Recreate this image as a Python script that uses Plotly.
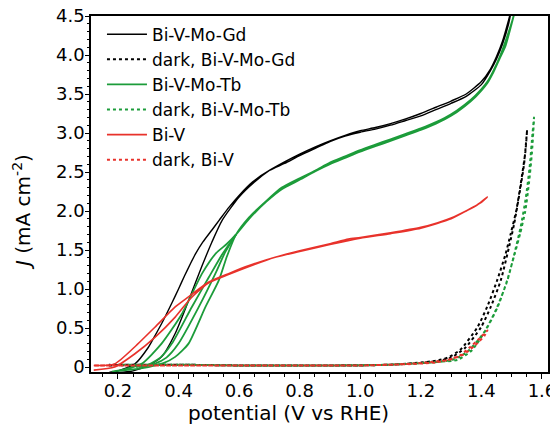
import plotly.graph_objects as go

# ---------------- data ----------------
# Bi-V-Mo-Gd, light: forward branch then reverse branch
gd_x = [0.17, 0.20, 0.25, 0.30, 0.344, 0.389, 0.433, 0.478, 0.51, 0.544, 0.60, 0.65, 0.70, 0.75, 0.80,
        0.85, 0.90, 0.95, 1.00, 1.05, 1.10, 1.15, 1.20, 1.25, 1.30, 1.35, 1.40, 1.43, 1.45, 1.47, 1.49, 1.50,
        1.49, 1.47, 1.45, 1.43, 1.40, 1.35, 1.30, 1.25, 1.20, 1.15, 1.10, 1.05, 1.00, 0.95, 0.90, 0.85,
        0.80, 0.75, 0.70, 0.644, 0.60, 0.567, 0.534, 0.511, 0.48, 0.456, 0.44, 0.42, 0.40, 0.378, 0.35,
        0.322, 0.30, 0.256, 0.20, 0.17]
gd_j = [-0.07, -0.07, -0.05, 0.02, 0.13, 0.43, 0.85, 1.30, 1.60, 1.88, 2.18, 2.37, 2.52, 2.63, 2.73,
        2.82, 2.90, 2.97, 3.03, 3.07, 3.12, 3.18, 3.25, 3.33, 3.41, 3.50, 3.66, 3.82, 3.98, 4.18, 4.45, 4.60,
        4.40, 4.14, 3.95, 3.80, 3.62, 3.47, 3.38, 3.30, 3.22, 3.16, 3.10, 3.05, 3.01, 2.96, 2.89, 2.80,
        2.71, 2.61, 2.52, 2.37, 2.20, 2.05, 1.88, 1.76, 1.60, 1.45, 1.33, 1.17, 1.00, 0.82, 0.60,
        0.40, 0.25, 0.04, -0.05, -0.07]

# Bi-V-Mo-Gd, dark
gd_dark_x = [0.17, 0.40, 0.60, 0.80, 1.00, 1.10, 1.18, 1.25, 1.289, 1.33, 1.387, 1.42, 1.452, 1.48, 1.497,
             1.515, 1.53, 1.545, 1.551,
             1.549, 1.541, 1.527, 1.509, 1.492, 1.464, 1.432, 1.399, 1.345, 1.30, 1.26, 1.19, 1.10, 0.90,
             0.60, 0.40, 0.17]
gd_dark_j = [0.02, 0.03, 0.02, 0.02, 0.02, 0.03, 0.05, 0.08, 0.12, 0.22, 0.51, 0.78, 1.11, 1.45, 1.71,
             2.00, 2.35, 2.75, 3.04,
             2.95, 2.60, 2.25, 1.85, 1.55, 1.11, 0.78, 0.51, 0.24, 0.12, 0.08, 0.05, 0.03, 0.02,
             0.02, 0.03, 0.03]

# Bi-V-Mo-Tb, light: rightmost forward, leftmost reverse, plus two middle branches
tb_x = [0.20, 0.25, 0.30, 0.35, 0.389, 0.433, 0.489, 0.533, 0.56, 0.59, 0.633, 0.69, 0.741, 0.80, 0.852,
        0.90, 0.95, 1.00, 1.05, 1.10, 1.15, 1.20, 1.25, 1.30, 1.344, 1.38, 1.42, 1.44, 1.462, 1.48, 1.502, 1.52,
        1.50, 1.48, 1.46, 1.44, 1.42, 1.38, 1.344, 1.30, 1.25, 1.20, 1.15, 1.10, 1.05, 1.00, 0.95, 0.90,
        0.852, 0.80, 0.741, 0.69, 0.633, 0.59, 0.56, 0.524, 0.478, 0.411, 0.344, 0.278, 0.22, 0.18,
        None, 0.26, 0.30, 0.34, 0.378, 0.444, 0.50, 0.545, 0.59,
        None, 0.27, 0.32, 0.36, 0.40, 0.467, 0.522, 0.555, 0.59]
tb_j = [-0.05, -0.03, 0.00, 0.05, 0.13, 0.30, 0.77, 1.11, 1.42, 1.70, 1.92, 2.13, 2.30, 2.42, 2.52,
        2.62, 2.70, 2.78, 2.85, 2.92, 2.99, 3.06, 3.14, 3.24, 3.36, 3.48, 3.66, 3.80, 3.99, 4.18, 4.44, 4.70,
        4.40, 4.12, 3.95, 3.78, 3.64, 3.46, 3.34, 3.22, 3.12, 3.04, 2.97, 2.90, 2.83, 2.76, 2.68, 2.60,
        2.51, 2.40, 2.28, 2.12, 1.90, 1.70, 1.58, 1.46, 1.20, 0.68, 0.30, 0.04, -0.03, -0.06,
        None, 0.00, 0.03, 0.12, 0.30, 0.77, 1.15, 1.45, 1.70,
        None, 0.00, 0.04, 0.12, 0.30, 0.77, 1.20, 1.48, 1.70]

# Bi-V-Mo-Tb, dark
tb_dark_x = [0.20, 0.40, 0.60, 0.80, 1.00, 1.10, 1.20, 1.27, 1.321, 1.37, 1.42, 1.455, 1.485, 1.51, 1.528,
             1.545, 1.557, 1.567, 1.574,
             1.569, 1.559, 1.546, 1.530, 1.512, 1.486, 1.450, 1.410, 1.355, 1.31, 1.27, 1.20, 1.10, 0.90,
             0.60, 0.40, 0.20]
tb_dark_j = [0.03, 0.03, 0.02, 0.02, 0.02, 0.03, 0.05, 0.07, 0.09, 0.22, 0.51, 0.78, 1.11, 1.45, 1.71,
             2.00, 2.35, 2.75, 3.20,
             3.00, 2.55, 2.15, 1.80, 1.50, 1.11, 0.75, 0.45, 0.20, 0.10, 0.07, 0.05, 0.03, 0.02,
             0.02, 0.03, 0.03]

# Bi-V, light
bv_x = [0.12, 0.189, 0.256, 0.322, 0.389, 0.433, 0.456, 0.50, 0.567, 0.633, 0.69, 0.722, 0.80, 0.90, 0.961,
        1.00, 1.10, 1.20, 1.256, 1.30, 1.354, 1.387, 1.42,
        1.40, 1.35, 1.30, 1.20, 1.10, 1.00, 0.90, 0.80, 0.722, 0.633, 0.567, 0.50, 0.433, 0.389, 0.322,
        0.256, 0.189, 0.12]
bv_j = [-0.04, 0.00, 0.17, 0.38, 0.64, 0.85, 0.94, 1.08, 1.19, 1.29, 1.37, 1.41, 1.49, 1.58, 1.64,
        1.66, 1.72, 1.79, 1.85, 1.91, 2.01, 2.08, 2.18,
        2.11, 2.00, 1.90, 1.78, 1.71, 1.65, 1.57, 1.48, 1.41, 1.30, 1.20, 1.09, 0.90, 0.77, 0.51,
        0.26, 0.04, 0.02]

# Bi-V, dark
bv_dark_x = [0.12, 0.30, 0.60, 0.80, 1.00, 1.10, 1.20, 1.25, 1.289, 1.33, 1.364, 1.395, 1.42,
             1.41, 1.38, 1.34, 1.30, 1.25, 1.18, 1.00, 0.60, 0.30, 0.12]
bv_dark_j = [0.02, 0.02, 0.02, 0.02, 0.02, 0.03, 0.05, 0.07, 0.09, 0.15, 0.26, 0.37, 0.47,
             0.40, 0.28, 0.16, 0.10, 0.06, 0.04, 0.02, 0.02, 0.02, 0.02]

series_names = ["Bi-V-Mo-Gd", "dark, Bi-V-Mo-Gd", "Bi-V-Mo-Tb", "dark, Bi-V-Mo-Tb", "Bi-V", "dark, Bi-V"]

x_tickvals = [0.2, 0.4, 0.6, 0.8, 1.0, 1.2, 1.4, 1.6]
x_ticktext = ["0.2", "0.4", "0.6", "0.8", "1.0", "1.2", "1.4", "1.6"]
y_tickvals = [0, 0.5, 1.0, 1.5, 2.0, 2.5, 3.0, 3.5, 4.0, 4.5]
y_ticktext = ["0", "0.5", "1.0", "1.5", "2.0", "2.5", "3.0", "3.5", "4.0", "4.5"]

# ---------------- styles ----------------
BLACK = "#000000"
GREEN = "#1c9c3a"
RED = "#e8322b"
FONT = "DejaVu Sans"

fig = go.Figure()
specs = [
    (gd_x, gd_j, series_names[0], BLACK, "solid", 1.4),
    (gd_dark_x, gd_dark_j, series_names[1], BLACK, "dot", 2),
    (tb_x, tb_j, series_names[2], GREEN, "solid", 1.8),
    (tb_dark_x, tb_dark_j, series_names[3], GREEN, "dot", 2),
    (bv_x, bv_j, series_names[4], RED, "solid", 1.6),
    (bv_dark_x, bv_dark_j, series_names[5], RED, "dot", 2),
]
for xs, js, name, col, dash, w in specs:
    fig.add_trace(go.Scatter(x=xs, y=js, name=name, mode="lines", connectgaps=False,
                             line=dict(color=col, dash=dash, width=w, shape="spline", smoothing=0.6)))

axis_common = dict(showline=True, linecolor="black", linewidth=1.5, mirror=True,
                   ticks="outside", tickcolor="black", tickwidth=1.2,
                   showgrid=False, zeroline=False, ticklabeloverflow="allow", automargin=False,
                   tickfont=dict(family=FONT, size=18, color="black"))

fig.update_xaxes(range=[0.111, 1.62], tickmode="array", tickvals=x_tickvals, ticktext=x_ticktext,
                 ticklen=5,
                 minor=dict(ticks="outside", tick0=0, dtick=0.05, ticklen=3, tickcolor="black", tickwidth=1),
                 ticklabelstandoff=-3, **axis_common)
fig.update_yaxes(range=[-0.064, 4.5], tickmode="array", tickvals=y_tickvals, ticktext=y_ticktext,
                 ticklen=4,
                 minor=dict(ticks="outside", tick0=0, dtick=0.1, ticklen=2, tickcolor="black", tickwidth=1),
                 ticklabelstandoff=-3, **axis_common)

# page body has an 8px margin, so the figure is 8px smaller and its margins shifted
fig.update_layout(
    width=550, height=425,
    margin=dict(l=83, r=10, t=8, b=61, autoexpand=False),
    paper_bgcolor="white", plot_bgcolor="white",
    font=dict(family=FONT, size=18, color="black"),
    showlegend=True,
    legend=dict(x=0.024, y=0.998, xanchor="left", yanchor="top", bgcolor="rgba(0,0,0,0)",
                font=dict(family=FONT, size=17, color="black"), itemwidth=40,
                tracegroupgap=0),
    annotations=[
        dict(text="potential (V vs RHE)", xref="paper", yref="paper", x=(280 - 83) / 457, y=-0.116,
             xanchor="center", yanchor="middle", showarrow=False,
             font=dict(family=FONT, size=20, color="black")),
        dict(text="<i>J</i> (mA cm<sup>-2</sup>)", xref="paper", yref="paper", x=(14 - 83) / 457,
             y=(364 - 204) / 356, xanchor="center", yanchor="middle", textangle=-90, showarrow=False,
             font=dict(family=FONT, size=20, color="black")),
    ],
)

fig.write_html("out.html")
